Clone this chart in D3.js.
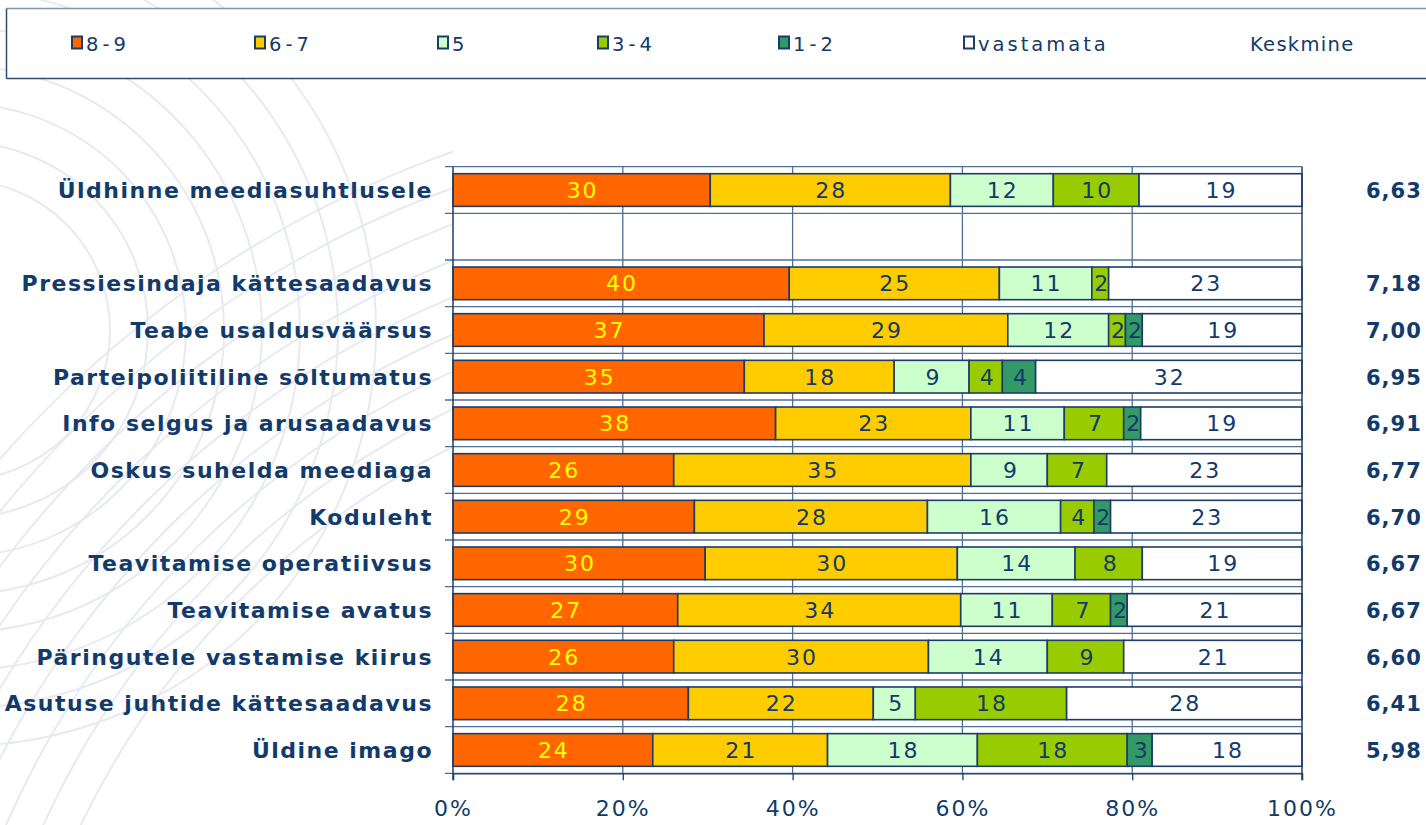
<!DOCTYPE html>
<html>
<head>
<meta charset="utf-8">
<script src="https://cdn.jsdelivr.net/npm/d3@7"></script>
<style>
  html, body { margin: 0; padding: 0; background: #ffffff; overflow: hidden; }
  svg { display: block; }
  text { font-family: "DejaVu Sans", Verdana, sans-serif; fill: #123a6a; }
</style>
</head>
<body>
<svg id="chart" width="1426" height="825"></svg>
<script>
// Hinnangud meediasuhtlusele (% vastanutest)
const categories = [
  "Üldhinne meediasuhtlusele",
  "",
  "Pressiesindaja kättesaadavus",
  "Teabe usaldusväärsus",
  "Parteipoliitiline sõltumatus",
  "Info selgus ja arusaadavus",
  "Oskus suhelda meediaga",
  "Koduleht",
  "Teavitamise operatiivsus",
  "Teavitamise avatus",
  "Päringutele vastamise kiirus",
  "Asutuse juhtide kättesaadavus",
  "Üldine imago"
];
const seriesNames = ["8-9", "6-7", "5", "3-4", "1-2", "vastamata"];
const s89    = [30, null, 40, 37, 35, 38, 26, 29, 30, 27, 26, 28, 24];
const s67    = [28, null, 25, 29, 18, 23, 35, 28, 30, 34, 30, 22, 21];
const s5     = [12, null, 11, 12,  9, 11,  9, 16, 14, 11, 14,  5, 18];
const s34    = [10, null,  2,  2,  4,  7,  7,  4,  8,  7,  9, 18, 18];
const s12    = [ 0, null,  0,  2,  4,  2,  0,  2,  0,  2,  0,  0,  3];
const sNoAns = [19, null, 23, 19, 32, 19, 23, 23, 19, 21, 21, 28, 18];
const means  = ["6,63", "", "7,18", "7,00", "6,95", "6,91", "6,77", "6,70", "6,67", "6,67", "6,60", "6,41", "5,98"];
const meanLabel = "Keskmine";
const xTicks = [0, 0.2, 0.4, 0.6, 0.8, 1];

const colors = ["#ff6600", "#ffcc00", "#ccffcc", "#99cc00", "#339966", "#ffffff"];
const navy = "#123a6a";
const lineCol = "#1c3d6a";

const svg = d3.select("#chart");

// decorative background arcs
const deco = svg.append("g").attr("fill", "none").attr("stroke", "#e7eaf0").attr("stroke-width", 2);
d3.range(8).forEach(i => {
  deco.append("circle").attr("cx", -40).attr("cy", 330).attr("r", 150 + i * 38);
});
d3.range(9).forEach(i => {
  deco.append("circle").attr("cx", 820).attr("cy", 1180).attr("r", 820 + i * 34);
});
svg.append("rect").attr("x", 453).attr("y", 120).attr("width", 973).attr("height", 705).attr("fill", "#fff");
svg.append("rect").attr("x", 460).attr("y", 0).attr("width", 966).attr("height", 160).attr("fill", "#fff");

// legend box
const legend = svg.append("g");
legend.append("rect").attr("x", 6.5).attr("y", 8.5).attr("width", 1440).attr("height", 70)
  .attr("fill", "#fff").attr("stroke", "none");
legend.append("line").attr("x1", 6.5).attr("x2", 1426).attr("y1", 8.5).attr("y2", 8.5).attr("stroke", "#7f95b0").attr("stroke-width", 1.5);
legend.append("line").attr("x1", 6.5).attr("x2", 1426).attr("y1", 78.5).attr("y2", 78.5).attr("stroke", "#2c4b75").attr("stroke-width", 1.5);
legend.append("line").attr("x1", 6.5).attr("x2", 6.5).attr("y1", 8.5).attr("y2", 78.5).attr("stroke", "#2c4b75").attr("stroke-width", 1.5);
const legendX = [71, 254, 437, 597, 778, 963];
seriesNames.forEach((name, i) => {
  const g = legend.append("g").attr("transform", `translate(${legendX[i]},0)`);
  g.append("rect").attr("x", 1).attr("y", 36.5).attr("width", 10).attr("height", 12)
    .attr("fill", colors[i]).attr("stroke", lineCol).attr("stroke-width", 2);
  g.append("text").attr("x", 15).attr("y", 51).attr("font-size", 19.5)
    .attr("letter-spacing", name.length <= 3 ? 4 : 3).text(name);
});
legend.append("text").attr("x", 1250).attr("y", 51).attr("font-size", 19.5).attr("letter-spacing", 1.3).text(meanLabel);

// scales
const x = d3.scaleLinear().domain([0, 1]).range([453, 1302]);
const y = d3.scaleBand().domain(d3.range(categories.length)).range([166.7, 773.3])
  .paddingInner(0.3).paddingOuter(0.15);
const step = y.step();
const bounds = d3.range(categories.length + 1).map(i => 166.7 + i * step);

// gridlines
const grid = svg.append("g").attr("stroke", "#4f6f96").attr("stroke-width", 1.3);
grid.selectAll("line.h").data(bounds).join("line").attr("class", "h")
  .attr("x1", 445).attr("x2", 1302).attr("y1", d => d).attr("y2", d => d);
grid.selectAll("line.v").data(xTicks.slice(1, -1)).join("line").attr("class", "v")
  .attr("x1", d => x(d)).attr("x2", d => x(d)).attr("y1", 166.7).attr("y2", 773.3);

// stacked bars (100%)
const rows = categories.map((c, i) => ({
  idx: i, blank: s89[i] == null,
  "8-9": s89[i] || 0, "6-7": s67[i] || 0, "5": s5[i] || 0,
  "3-4": s34[i] || 0, "1-2": s12[i] || 0, "vastamata": sNoAns[i] || 0
}));
const filled = rows.filter(r => !r.blank);
const stacked = d3.stack().keys(seriesNames).offset(d3.stackOffsetExpand)(filled);

const bars = svg.append("g");
stacked.forEach((layer, li) => {
  const g = bars.append("g");
  layer.forEach(seg => {
    const val = seg.data[seriesNames[li]];
    if (!val) return;
    const x0 = x(seg[0]), x1 = x(seg[1]);
    const yy = y(seg.data.idx);
    g.append("rect").attr("x", x0).attr("y", yy).attr("width", x1 - x0).attr("height", y.bandwidth())
      .attr("fill", colors[li]).attr("stroke", lineCol).attr("stroke-width", 1.6);
    g.append("text").attr("x", (x0 + x1) / 2 + 1).attr("y", yy + y.bandwidth() / 2 + 8)
      .attr("text-anchor", "middle").attr("font-size", 22)
      .attr("letter-spacing", val >= 10 ? 2 : 0)
      .style("fill", li === 0 ? "#ffff00" : navy)
      .text(val);
  });
});

// axes
svg.append("line").attr("x1", 453).attr("x2", 453).attr("y1", 166.7).attr("y2", 780).attr("stroke", lineCol).attr("stroke-width", 1.5);
svg.append("line").attr("x1", 1302).attr("x2", 1302).attr("y1", 166.7).attr("y2", 780).attr("stroke", lineCol).attr("stroke-width", 1.5);
const xAxis = svg.append("g").attr("transform", "translate(0,773.3)")
  .call(d3.axisBottom(x).tickValues(xTicks).tickFormat(d3.format(".0%")).tickSize(7).tickPadding(20));
xAxis.select(".domain").attr("stroke", lineCol).attr("stroke-width", 1.3);
xAxis.selectAll(".tick line").attr("stroke", lineCol).attr("stroke-width", 1.3);
xAxis.selectAll(".tick text").attr("font-size", 22).attr("letter-spacing", 2)
  .attr("font-family", "DejaVu Sans").style("fill", navy);

// category labels
svg.append("g").selectAll("text").data(categories).join("text")
  .attr("x", 433).attr("y", (d, i) => y(i) + y.bandwidth() / 2 + 8)
  .attr("text-anchor", "end").attr("font-size", 22).attr("font-weight", "bold")
  .attr("letter-spacing", 1.5).text(d => d);

// mean values
svg.append("g").selectAll("text").data(means).join("text")
  .attr("x", 1366).attr("y", (d, i) => y(i) + y.bandwidth() / 2 + 8)
  .attr("font-size", 21).attr("font-weight", "bold").attr("letter-spacing", 1).text(d => d);
</script>
</body>
</html>
